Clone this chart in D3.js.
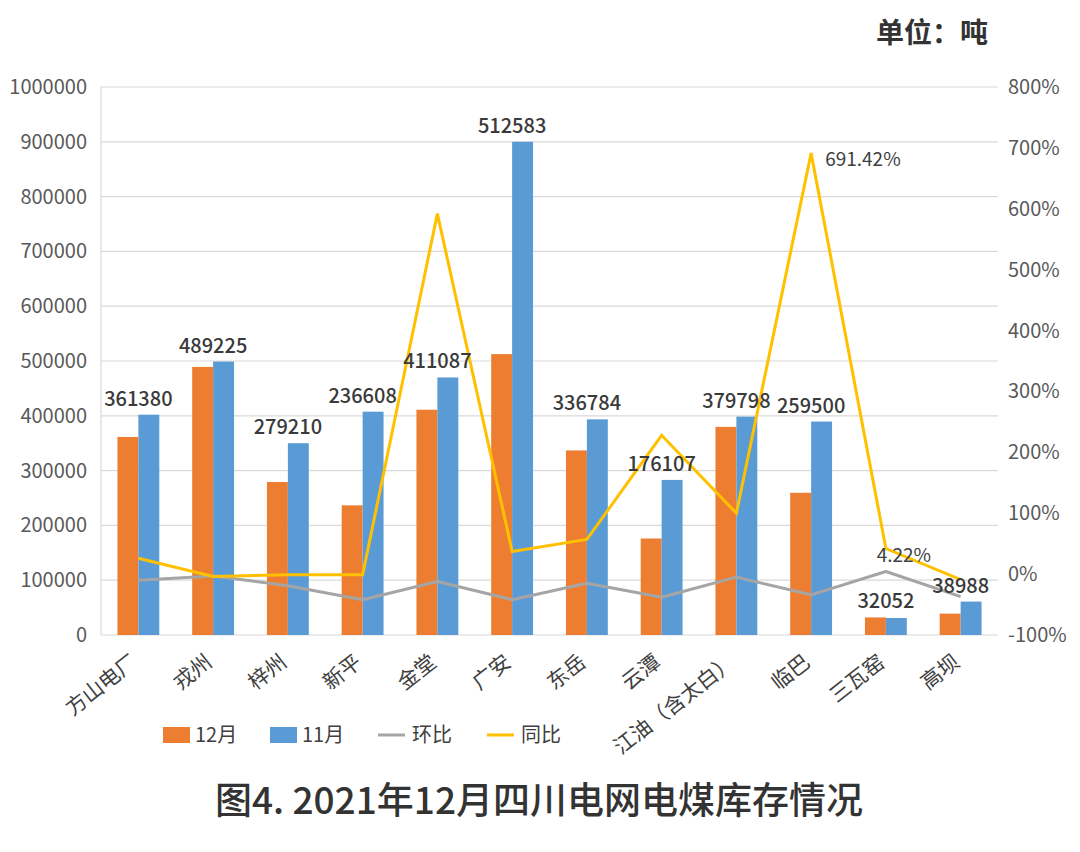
<!DOCTYPE html>
<html>
<head>
    <meta charset="utf-8">
    <title>四川电网电煤库存情况</title>
    <style>
        body { margin: 0; background: #fff; }
        text { font-family: "Noto Sans CJK SC", "Noto Sans", sans-serif; }
        .grid line { stroke: #d9d9d9; stroke-width: 1.2px; }
        .tick-label { fill: #595959; font-size: 20px; }
    </style>
</head>
<body>
    <script src="https://cdn.jsdelivr.net/npm/d3@7/dist/d3.min.js"></script>
    <script>
        // data
        var categories = ["方山电厂", "戎州", "梓州", "新平", "金堂", "广安", "东岳", "云潭", "江油（含太白）", "临巴", "三瓦窑", "高坝"];
        var dec = [361380, 489225, 279210, 236608, 411087, 512583, 336784, 176107, 379798, 259500, 32052, 38988];
        var nov = [402000, 499000, 350000, 407500, 470000, 900000, 393500, 283000, 398500, 389500, 31000, 61000];
        var mom = [-0.10, -0.03, -0.19, -0.42, -0.12, -0.42, -0.15, -0.38, -0.05, -0.34, 0.0422, -0.37];
        var yoy = [0.26, -0.04, -0.01, -0.01, 5.92, 0.37, 0.57, 2.28, 1.00, 6.9142, 0.42, -0.09];
        var leftTicks = [0, 100000, 200000, 300000, 400000, 500000, 600000, 700000, 800000, 900000, 1000000];
        var rightTicks = [-1, 0, 1, 2, 3, 4, 5, 6, 7, 8];

        var width = 1080, height = 852;
        var plotLeft = 101, plotRight = 998, plotTop = 87, plotBottom = 635;

        var svg = d3.select("body").append("svg")
            .attr("width", width)
            .attr("height", height);

        var y = d3.scaleLinear().domain([0, 1000000]).range([plotBottom, plotTop]);
        var y2 = d3.scaleLinear().domain([-1, 8]).range([plotBottom, plotTop]);

        var x0 = d3.scaleBand()
            .domain(categories)
            .range([plotLeft, plotRight])
            .paddingInner(0.44)
            .paddingOuter(0.22);
        var x1 = d3.scaleBand()
            .domain(["dec", "nov"])
            .range([0, x0.bandwidth()]);

        function cx(c) { return x0(c) + x0.bandwidth() / 2; }

        // gridlines
        svg.append("g").attr("class", "grid")
            .selectAll("line")
            .data(leftTicks)
            .enter().append("line")
            .attr("x1", plotLeft).attr("x2", plotRight)
            .attr("y1", function (d) { return y(d); })
            .attr("y2", function (d) { return y(d); });

        svg.append("line")
            .attr("x1", plotLeft).attr("x2", plotLeft)
            .attr("y1", plotTop).attr("y2", plotBottom)
            .style("stroke", "#d9d9d9").style("stroke-width", "1.2px");

        // left axis labels
        svg.append("g").selectAll("text")
            .data(leftTicks)
            .enter().append("text")
            .attr("class", "tick-label")
            .attr("x", 87)
            .attr("y", function (d) { return y(d); })
            .attr("dy", "0.35em")
            .attr("text-anchor", "end")
            .text(function (d) { return d; });

        // right axis labels
        svg.append("g").selectAll("text")
            .data(rightTicks)
            .enter().append("text")
            .attr("class", "tick-label")
            .attr("x", 1008)
            .attr("y", function (d) { return y2(d); })
            .attr("dy", "0.35em")
            .text(function (d) { return Math.round(d * 100) + "%"; });

        // bars
        var groups = svg.append("g").selectAll("g")
            .data(categories)
            .enter().append("g")
            .attr("transform", function (d) { return "translate(" + x0(d) + ",0)"; });

        groups.append("rect")
            .attr("x", x1("dec"))
            .attr("width", x1.bandwidth())
            .attr("y", function (d, i) { return y(dec[i]); })
            .attr("height", function (d, i) { return plotBottom - y(dec[i]); })
            .style("fill", "#ED7D31");

        groups.append("rect")
            .attr("x", x1("nov"))
            .attr("width", x1.bandwidth())
            .attr("y", function (d, i) { return y(nov[i]); })
            .attr("height", function (d, i) { return plotBottom - y(nov[i]); })
            .style("fill", "#5B9BD5");

        // lines
        var line = d3.line()
            .x(function (d) { return cx(d.c); })
            .y(function (d) { return y2(d.v); });

        svg.append("path")
            .datum(categories.map(function (c, i) { return { c: c, v: mom[i] }; }))
            .attr("d", line)
            .style("fill", "none")
            .style("stroke", "#A5A5A5")
            .style("stroke-width", "3px")
            .style("stroke-linejoin", "round");

        svg.append("path")
            .datum(categories.map(function (c, i) { return { c: c, v: yoy[i] }; }))
            .attr("d", line)
            .style("fill", "none")
            .style("stroke", "#FFC000")
            .style("stroke-width", "3px")
            .style("stroke-linejoin", "miter");

        // bar value labels (12月 values, placed over the group)
        svg.append("g").selectAll("text")
            .data(categories)
            .enter().append("text")
            .attr("x", function (d) { return cx(d); })
            .attr("y", function (d, i) { return Math.min(y(nov[i]), y(dec[i])) - 9; })
            .attr("text-anchor", "middle")
            .style("font-size", "20px")
            .style("font-weight", "500")
            .style("fill", "#3a3a3a")
            .text(function (d, i) { return dec[i]; });

        // percent labels
        svg.append("text")
            .attr("x", cx("临巴") + 14)
            .attr("y", y2(yoy[9]) + 6)
            .attr("dy", "0.35em")
            .style("font-size", "19px")
            .style("fill", "#404040")
            .text((yoy[9] * 100).toFixed(2) + "%");

        svg.append("text")
            .attr("x", cx("三瓦窑") + 18)
            .attr("y", y2(mom[10]) - 10)
            .attr("text-anchor", "middle")
            .style("font-size", "19px")
            .style("fill", "#404040")
            .text((mom[10] * 100).toFixed(2) + "%");

        // category labels
        svg.append("g").selectAll("text")
            .data(categories)
            .enter().append("text")
            .attr("transform", function (d) { return "translate(" + (cx(d) - 4) + "," + 659 + ") rotate(-38)"; })
            .attr("text-anchor", "end")
            .attr("dy", "0.35em")
            .style("font-size", "21px")
            .style("fill", "#404040")
            .text(function (d) { return d; });

        // legend
        var legend = [
            { name: "12月", color: "#ED7D31", type: "rect", x: 163 },
            { name: "11月", color: "#5B9BD5", type: "rect", x: 270 },
            { name: "环比", color: "#A5A5A5", type: "line", x: 378 },
            { name: "同比", color: "#FFC000", type: "line", x: 487 }
        ];
        var lg = svg.append("g").selectAll("g")
            .data(legend)
            .enter().append("g")
            .attr("transform", function (d) { return "translate(" + d.x + ",735)"; });
        lg.filter(function (d) { return d.type == "rect"; })
            .append("rect")
            .attr("x", 0).attr("y", -8)
            .attr("width", 27).attr("height", 16)
            .style("fill", function (d) { return d.color; });
        lg.filter(function (d) { return d.type == "line"; })
            .append("line")
            .attr("x1", 0).attr("x2", 27)
            .attr("y1", 0).attr("y2", 0)
            .style("stroke", function (d) { return d.color; })
            .style("stroke-width", "3px");
        lg.append("text")
            .attr("x", function (d) { return d.type == "rect" ? 32 : 34; })
            .attr("dy", "0.35em")
            .style("font-size", "20px")
            .style("fill", "#404040")
            .text(function (d) { return d.name; });

        // unit and title
        svg.append("text")
            .attr("x", 988)
            .attr("y", 33)
            .attr("dy", "0.35em")
            .attr("text-anchor", "end")
            .style("font-size", "28px")
            .style("font-weight", "700")
            .style("fill", "#333")
            .text("单位：吨");

        svg.append("text")
            .attr("x", 539)
            .attr("y", 801)
            .attr("dy", "0.35em")
            .attr("text-anchor", "middle")
            .style("font-size", "37px")
            .style("font-weight", "500")
            .style("fill", "#333")
            .text("图4. 2021年12月四川电网电煤库存情况");
    </script>
</body>
</html>
